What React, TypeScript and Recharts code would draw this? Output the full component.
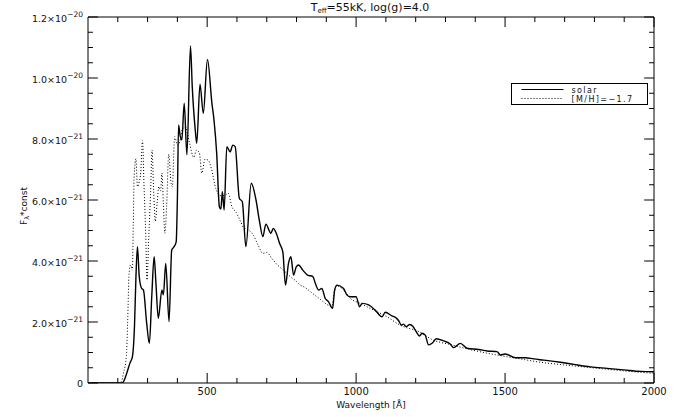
import React from 'react';
import { LineChart, Line, XAxis, YAxis, Legend, ReferenceLine } from 'recharts';

// Wavelength in Angstrom
const SOLAR_WL = [
  100, 200, 215, 222, 230, 241, 249, 256, 261, 266, 272, 280, 286, 297, 306, 314, 322, 328, 336, 348,
  353, 361, 372, 381, 389, 396, 400, 404, 409, 415, 423, 432, 444, 450, 460, 465, 476, 487, 501, 516,
  523, 532, 541, 546, 551, 557, 566, 577, 586, 594, 608, 618, 630, 648, 664, 675, 687, 697, 714, 722,
  732, 743, 754, 763, 773, 781, 790, 799, 807, 821, 837, 855, 863, 874, 885, 896, 907, 921, 928, 936,
  958, 969, 980, 1000, 1012, 1020, 1042, 1064, 1087, 1098, 1120, 1132, 1143, 1152, 1159, 1168, 1180, 1191, 1202, 1213,
  1221, 1232, 1243, 1256, 1269, 1294, 1316, 1327, 1350, 1372, 1411, 1440, 1473, 1484, 1501, 1535, 1568, 1596, 1630, 1663,
  1686, 1731, 1787, 1843, 1899, 1955, 2000,
];
// Flux in units of 1e-21
const SOLAR_FLUX = [
  0, 0, 0, 0.1, 0.32, 0.66, 0.86, 1.85, 3.49, 4.47, 3.49, 3.1, 3.05, 1.96, 1.3, 2.83, 4.14, 3.28, 2.12, 3.05,
  2.89, 3.92, 2.01, 4.36, 4.47, 4.63, 6.0, 8.46, 8.13, 7.97, 9.17, 7.48, 11.05, 9.71, 8.3, 7.86, 9.8, 8.84, 10.61, 9.17,
  8.62, 7.53, 5.78, 5.7, 6.27, 5.67, 7.75, 7.58, 7.8, 7.75, 6.06, 5.94, 4.47, 6.55, 6.0, 5.34, 4.8, 5.21, 4.91, 5.07,
  4.91, 4.58, 4.3, 3.21, 3.92, 4.14, 3.54, 3.81, 3.87, 3.7, 3.54, 3.49, 3.27, 3.05, 3.1, 2.78, 2.67, 2.45, 3.05, 3.21,
  3.1, 2.89, 2.83, 2.83, 2.5, 2.61, 2.56, 2.39, 2.17, 2.32, 2.2, 2.15, 2.04, 1.9, 1.93, 1.85, 1.92, 1.85, 1.68, 1.54,
  1.63, 1.57, 1.25, 1.31, 1.45, 1.38, 1.28, 1.16, 1.3, 1.14, 1.1, 1.05, 1.03, 0.92, 0.95, 0.83, 0.83, 0.79, 0.75, 0.71,
  0.68, 0.61, 0.53, 0.48, 0.43, 0.38, 0.37,
];

const MH_WL = [
  100, 200, 212, 219, 229, 233, 238, 243, 249, 252, 255, 261, 266, 272, 277, 283, 288, 294, 298, 304,
  310, 315, 320, 326, 332, 338, 344, 348, 353, 358, 364, 371, 379, 383, 391, 400, 408, 416, 427, 440,
  455, 464, 474, 482, 493, 504, 515, 529, 546, 560, 571, 583, 597, 612, 622, 639, 655, 672, 687, 700,
  717, 734, 756, 779, 801, 812, 823, 868, 919, 928, 936, 958, 980, 1014, 1059, 1104, 1149, 1212, 1254, 1321,
  1377, 1433, 1489, 1545, 1619, 1691, 1731, 1843, 1955, 2000,
];
const MH_FLUX = [
  0, 0, 0.05, 0.32, 0.9, 1.96, 3.6, 3.87, 3.7, 5.2, 6.8, 7.35, 6.44, 6.6, 6.9, 7.95, 6.5, 4.8, 3.38, 4.8,
  6.22, 7.64, 6.4, 5.3, 5.9, 6.44, 6.3, 6.88, 5.9, 4.91, 5.8, 7.5, 6.55, 6.44, 8.08, 7.8, 7.9, 8.3, 8.4, 7.9,
  7.4, 7.64, 7.53, 6.88, 7.34, 7.3, 7.0, 6.38, 6.14, 6.16, 6.22, 5.78, 5.6, 5.3, 5.1, 5.02, 4.85, 4.5, 4.25, 4.28,
  4.09, 3.89, 3.7, 3.49, 3.32, 3.21, 3.16, 2.83, 2.52, 3.05, 3.18, 3.05, 2.78, 2.61, 2.39, 2.17, 1.89, 1.68, 1.43, 1.25,
  1.11, 0.99, 0.89, 0.8, 0.68, 0.6, 0.56, 0.45, 0.35, 0.32,
];

const FLUX_UNIT = 1e-21;
const SERIES_NAMES = ['solar', '[M/H]=\u22121.7'];
const SERIES_DASH = [undefined, '1 2'];

const X_MIN = 100;
const X_MAX = 2000;
const X_MAJOR_TICKS = [500, 1000, 1500, 2000];
const X_MINOR_TICKS = [200, 300, 400, 600, 700, 800, 900, 1100, 1200, 1300, 1400, 1600, 1700, 1800, 1900];
const Y_MAJOR = [0, 2, 4, 6, 8, 10, 12];
const Y_MINOR = [0.5, 1, 1.5, 2.5, 3, 3.5, 4.5, 5, 5.5, 6.5, 7, 7.5, 8.5, 9, 9.5, 10.5, 11, 11.5];

const Y_MAX = 12 * FLUX_UNIT;
const Y_MAJOR_TICKS = Y_MAJOR.map((v) => v * FLUX_UNIT);
const Y_MINOR_TICKS = Y_MINOR.map((v) => v * FLUX_UNIT);

// inward tick lengths expressed in data units (approx. 10 px major, 5 px minor)
const X_TICK_MAJOR = 33;
const X_TICK_MINOR = 16.5;
const Y_TICK_MAJOR = 0.33 * FLUX_UNIT;
const Y_TICK_MINOR = 0.165 * FLUX_UNIT;

const solarData = SOLAR_WL.map((wl, i) => ({ wl, flux: SOLAR_FLUX[i] * FLUX_UNIT }));
const mhData = MH_WL.map((wl, i) => ({ wl, flux: MH_FLUX[i] * FLUX_UNIT }));

type Seg = [{ x: number; y: number }, { x: number; y: number }];
const tickSegments: Seg[] = [];
const addX = (ticks: number[], len: number) =>
  ticks.forEach((t) => {
    tickSegments.push([{ x: t, y: 0 }, { x: t, y: len }]);
    tickSegments.push([{ x: t, y: Y_MAX }, { x: t, y: Y_MAX - len }]);
  });
const addY = (ticks: number[], len: number) =>
  ticks.forEach((t) => {
    tickSegments.push([{ x: X_MIN, y: t }, { x: X_MIN + len, y: t }]);
    tickSegments.push([{ x: X_MAX, y: t }, { x: X_MAX - len, y: t }]);
  });
addX(X_MAJOR_TICKS, Y_TICK_MAJOR);
addX(X_MINOR_TICKS, Y_TICK_MINOR);
addY(Y_MAJOR_TICKS, X_TICK_MAJOR);
addY(Y_MINOR_TICKS, X_TICK_MINOR);

const FONT = '"DejaVu Sans", "Liberation Sans", sans-serif';
const TXT = '#111';

const XTick = (props: any) => {
  const { x, y, payload } = props;
  return (
    <text x={x} y={y} dy={8} textAnchor="middle" fontSize={10} fontFamily={FONT} fill={TXT}>
      {payload.value}
    </text>
  );
};

const YTick = (props: any) => {
  const { x, y, payload } = props;
  const v = payload.value as number;
  if (v === 0) {
    return (
      <text x={x} y={y + 4} textAnchor="end" fontSize={9.5} fontFamily={FONT} fill={TXT}>
        0
      </text>
    );
  }
  const e = Math.floor(Math.log10(v) + 1e-9);
  const m = (v / Math.pow(10, e)).toFixed(1);
  return (
    <text x={x} y={y + 5} textAnchor="end" fontSize={9.5} fontFamily={FONT} fill={TXT}>
      <tspan>{m}{'\u00d7'}10</tspan>
      <tspan dy={-5} fontSize={7.5}>{'\u2212'}{Math.abs(e)}</tspan>
    </text>
  );
};

const renderLegend = (props: any) => {
  const payload: any[] = props.payload || [];
  return (
    <svg width={137} height={22} style={{ display: 'block' }}>
      <rect x={0.5} y={0.5} width={136} height={21} fill="#fff" stroke="#000" strokeWidth={1} />
      {SERIES_NAMES.map((name, i) => {
        const entry = payload.find((p) => p && p.value === name);
        const dash = entry && entry.payload && entry.payload.strokeDasharray ? entry.payload.strokeDasharray : SERIES_DASH[i];
        const cy = 6.5 + i * 9;
        return (
          <g key={name}>
            <line x1={10.5} x2={52.5} y1={cy} y2={cy} stroke="#000" strokeWidth={1} strokeDasharray={dash} />
            <text x={60.5} y={cy + 3} fontSize={8} letterSpacing={1.4} fontFamily={FONT} fill={TXT}>
              {name}
            </text>
          </g>
        );
      })}
    </svg>
  );
};

export default function App() {
  return (
    <div style={{ position: 'absolute', left: 0, top: 0, width: 681, height: 417, background: '#fff' }}>
      <LineChart width={681} height={417} margin={{ top: 17, right: 27, bottom: 4, left: 8 }}>
        <XAxis
          xAxisId="x"
          dataKey="wl"
          type="number"
          domain={[X_MIN, X_MAX]}
          allowDataOverflow
          interval={0}
          stroke="#000"
          ticks={X_MAJOR_TICKS}
          height={30}
          tickLine={false}
          tickSize={0}
          tickMargin={4}
          tick={<XTick />}
          label={{ value: 'Wavelength [\u00c5]', position: 'insideBottom', offset: 5, fontSize: 9, fontFamily: FONT, fill: TXT }}
        />
        <YAxis
          yAxisId="y"
          type="number"
          domain={[0, Y_MAX]}
          allowDataOverflow
          interval={0}
          stroke="#000"
          ticks={Y_MAJOR_TICKS}
          width={80}
          tickLine={false}
          tickSize={0}
          tickMargin={5}
          tick={<YTick />}
        />

        <ReferenceLine xAxisId="x" yAxisId="y" y={Y_MAX} stroke="#000" strokeWidth={1} ifOverflow="visible" />
        <ReferenceLine xAxisId="x" yAxisId="y" x={X_MAX} stroke="#000" strokeWidth={1} ifOverflow="visible" />
        {tickSegments.map((seg, i) => (
          <ReferenceLine key={`t${i}`} xAxisId="x" yAxisId="y" segment={seg} stroke="#000" strokeWidth={1} ifOverflow="visible" />
        ))}

        <Line
          xAxisId="x"
          yAxisId="y"
          data={solarData}
          dataKey="flux"
          name={SERIES_NAMES[0]}
          type="monotone"
          stroke="#000"
          strokeWidth={1.4}
          dot={false}
          activeDot={false}
          isAnimationActive={false}
        />
        <Line
          xAxisId="x"
          yAxisId="y"
          data={mhData}
          dataKey="flux"
          name={SERIES_NAMES[1]}
          type="monotone"
          stroke="#000"
          strokeWidth={1}
          strokeDasharray={SERIES_DASH[1]}
          dot={false}
          activeDot={false}
          isAnimationActive={false}
        />
        <Legend
          layout="vertical"
          align="center"
          verticalAlign="middle"
          wrapperStyle={{ left: 511, top: 83, width: 137, height: 22 }}
          content={renderLegend}
        />
      </LineChart>
      <div
        style={{
          position: 'absolute',
          left: 370,
          top: 1,
          transform: 'translateX(-50%)',
          whiteSpace: 'nowrap',
          fontFamily: FONT,
          fontSize: 11,
          lineHeight: '14px',
          color: TXT,
        }}
      >
        T<span style={{ fontSize: 7, position: 'relative', top: 2 }}>eff</span>=55kK, log(g)=4.0
      </div>
      <div
        style={{
          position: 'absolute',
          left: 24,
          top: 206,
          transform: 'translate(-50%, -50%) rotate(-90deg)',
          whiteSpace: 'nowrap',
          fontFamily: FONT,
          fontSize: 9,
          lineHeight: '12px',
          color: TXT,
        }}
      >
        F<span style={{ fontSize: 6.5, position: 'relative', top: 2 }}>{'\u03bb'}</span>*const
      </div>
    </div>
  );
}
